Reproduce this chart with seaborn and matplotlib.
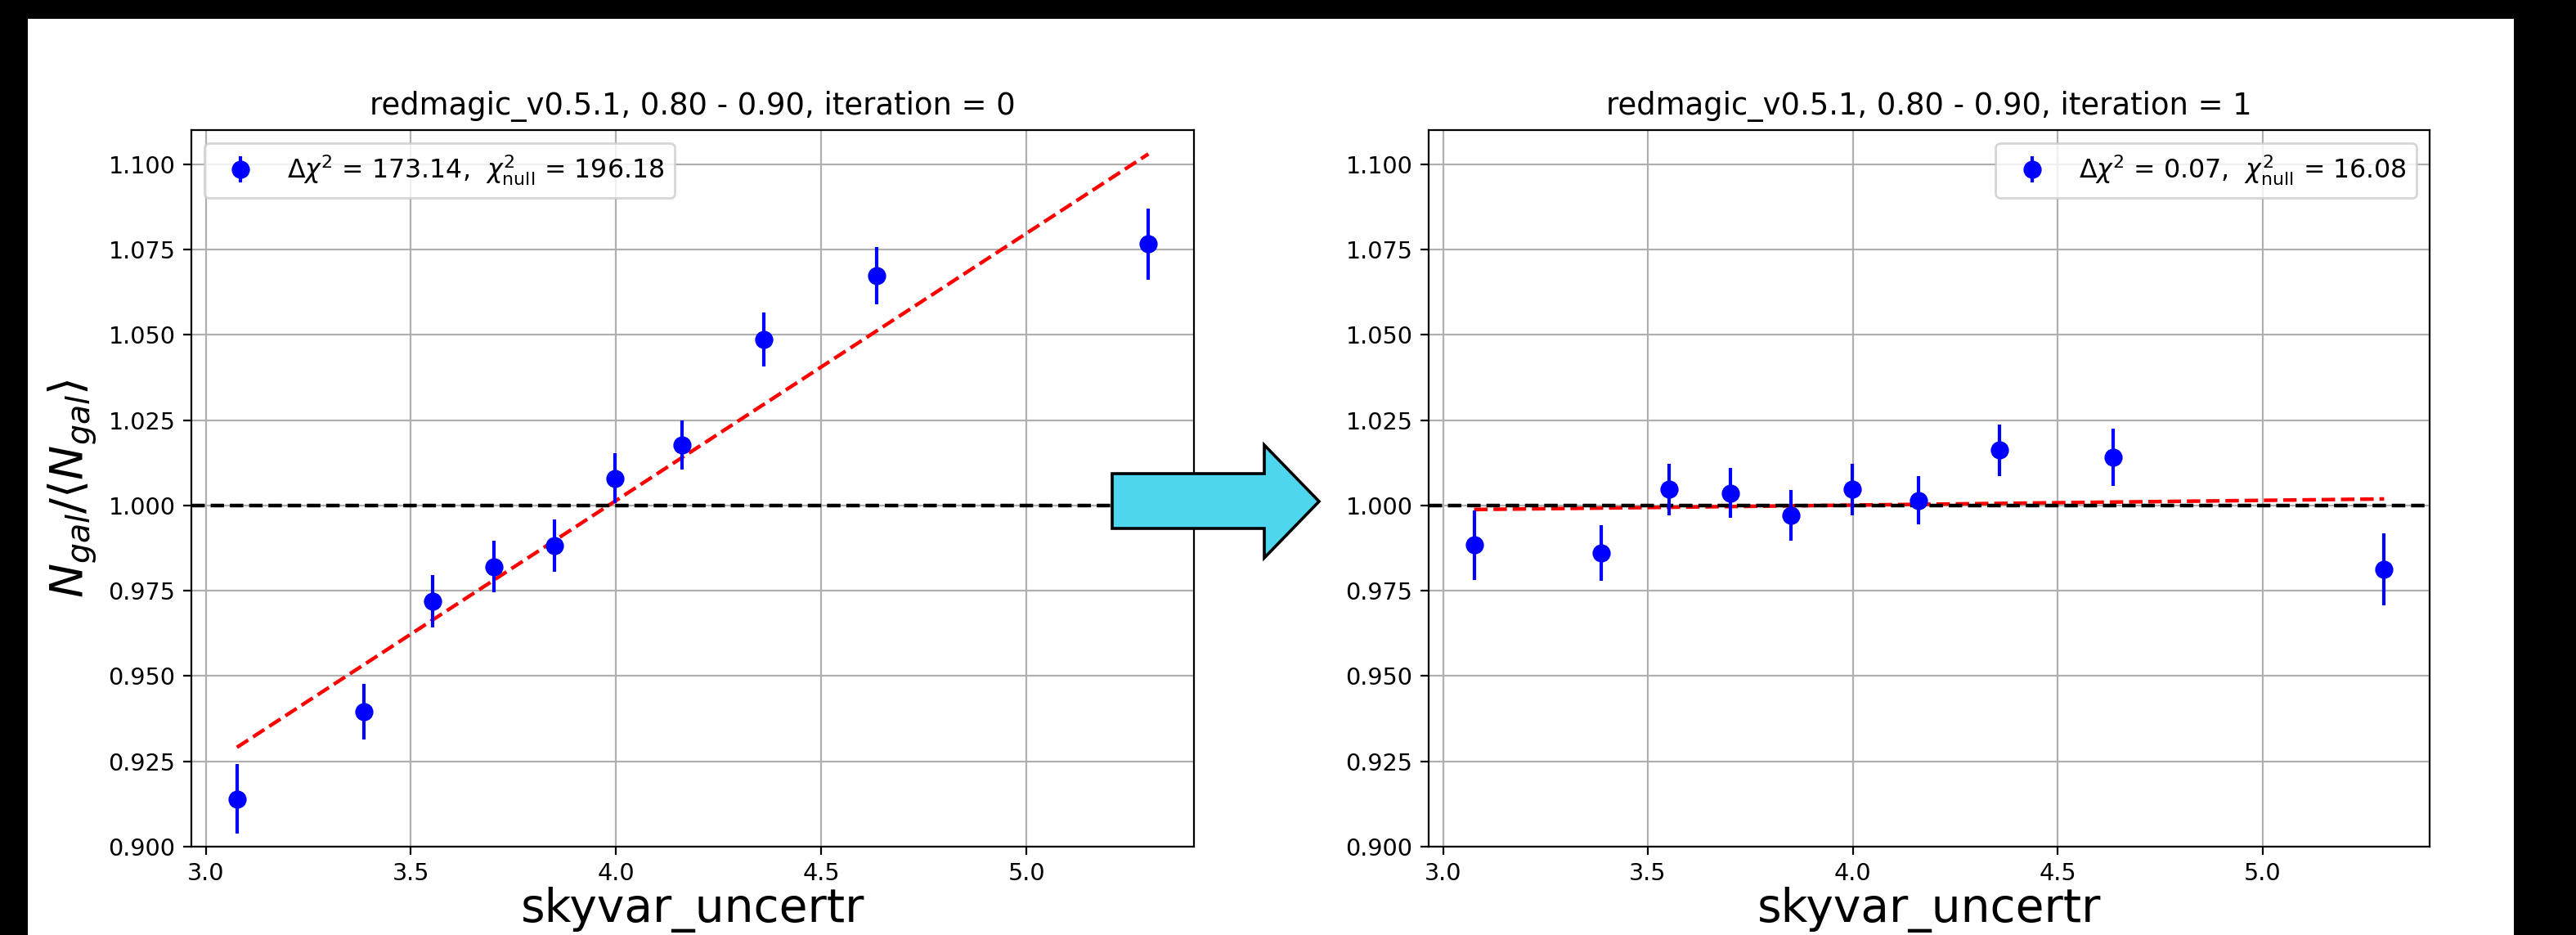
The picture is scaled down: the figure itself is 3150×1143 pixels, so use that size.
import numpy as np
import matplotlib
matplotlib.use('Agg')
import matplotlib.pyplot as plt
from matplotlib.patches import Rectangle, Polygon
import seaborn as sns

# skyvar_uncertr bin centres and N_gal/<N_gal> per iteration
x_bins = [3.076, 3.386, 3.552, 3.702, 3.850, 3.998, 4.161, 4.359, 4.635, 5.297]
ratio_it0 = [0.9140, 0.9396, 0.9719, 0.9821, 0.9882, 1.0079, 1.0177, 1.0487, 1.0673, 1.0766]
err_it0 = [0.0102, 0.0082, 0.0076, 0.0075, 0.0076, 0.0073, 0.0071, 0.0079, 0.0084, 0.0105]
ratio_it1 = [0.9884, 0.9861, 1.0047, 1.0036, 0.9971, 1.0047, 1.0015, 1.0162, 1.0140, 0.9813]
err_it1 = [0.0102, 0.0081, 0.0075, 0.0073, 0.0075, 0.0075, 0.0071, 0.0075, 0.0084, 0.0105]

# linear fit ends
fit_x = [3.076, 5.297]
fit_it0 = [0.9291, 1.1030]
fit_it1 = [0.9988, 1.0019]

titles = ['redmagic_v0.5.1, 0.80 - 0.90, iteration = 0',
          'redmagic_v0.5.1, 0.80 - 0.90, iteration = 1']
legend_labels = [r'$\Delta\chi^2$ = 173.14,  $\chi^2_{\mathrm{null}}$ = 196.18',
                 r'$\Delta\chi^2$ = 0.07,  $\chi^2_{\mathrm{null}}$ = 16.08']

sns.set_theme(style='whitegrid')
plt.rcParams['font.family'] = ['DejaVu Sans']
plt.rcParams['axes.edgecolor'] = 'black'
plt.rcParams['axes.linewidth'] = 0.8
plt.rcParams['grid.color'] = '#b0b0b0'
plt.rcParams['grid.linewidth'] = 0.8
plt.rcParams['xtick.bottom'] = True
plt.rcParams['ytick.left'] = True
plt.rcParams['xtick.major.size'] = 3.5
plt.rcParams['ytick.major.size'] = 3.5
plt.rcParams['xtick.color'] = 'black'
plt.rcParams['ytick.color'] = 'black'
plt.rcParams['text.color'] = 'black'
plt.rcParams['axes.labelcolor'] = 'black'

W, H = 3150, 1143
fig = plt.figure(figsize=(W / 200, H / 200), dpi=200, facecolor='black')

# white slide area
fig.add_artist(Rectangle((34 / W, 0), (3074 - 34) / W, 1 - 23 / H,
                         transform=fig.transFigure, facecolor='white',
                         edgecolor='none', zorder=-10))

ax_pos = [[234 / W, 108 / H, 1226 / W, 876 / H],
          [1747 / W, 108 / H, 1224 / W, 876 / H]]
series = [(ratio_it0, err_it0, fit_it0), (ratio_it1, err_it1, fit_it1)]
locs = ['upper left', 'upper right']

for i, (vals, errs, fit) in enumerate(series):
    ax = fig.add_axes(ax_pos[i])
    ax.errorbar(x_bins, vals, yerr=errs, fmt='o', color='blue', ms=7,
                elinewidth=1.5, capsize=0, label=legend_labels[i], zorder=3)
    sns.lineplot(x=fit_x, y=fit, ax=ax, color='red', linestyle='--', lw=1.6, zorder=2)
    ax.axhline(1.0, color='black', linestyle='--', lw=1.6, zorder=2)
    ax.set_ylim(0.9, 1.11)
    ax.set_yticks([0.9, 0.925, 0.95, 0.975, 1.0, 1.025, 1.05, 1.075, 1.1])
    ax.yaxis.set_major_formatter(matplotlib.ticker.FormatStrFormatter('%.3f'))
    ax.set_xticks([3.0, 3.5, 4.0, 4.5, 5.0])
    ax.tick_params(labelsize=10.3, width=0.8, pad=3.5)
    ax.grid(True)
    ax.set_title(titles[i], fontsize=13.3, pad=7)
    ax.set_xlabel('skyvar_uncertr', fontsize=20.4, labelpad=0.5)
    if i == 0:
        ax.set_ylabel(r'$N_{gal}/\langle N_{gal} \rangle$', fontsize=20.3)
    ax.legend(loc=locs[i], fontsize=11.4, frameon=True, framealpha=0.8,
              edgecolor='#cccccc')

# arrow between the panels
arrow_px = [(1360, 579), (1546, 579), (1546, 544), (1613, 613),
            (1546, 682), (1546, 646), (1360, 646)]
arrow_pts = [(px / W, 1 - py / H) for px, py in arrow_px]
fig.add_artist(Polygon(arrow_pts, closed=True, transform=fig.transFigure,
                       facecolor='#4dd6ee', edgecolor='black', lw=1.3, zorder=10))

fig.savefig('out.png', dpi=200, facecolor=fig.get_facecolor())
